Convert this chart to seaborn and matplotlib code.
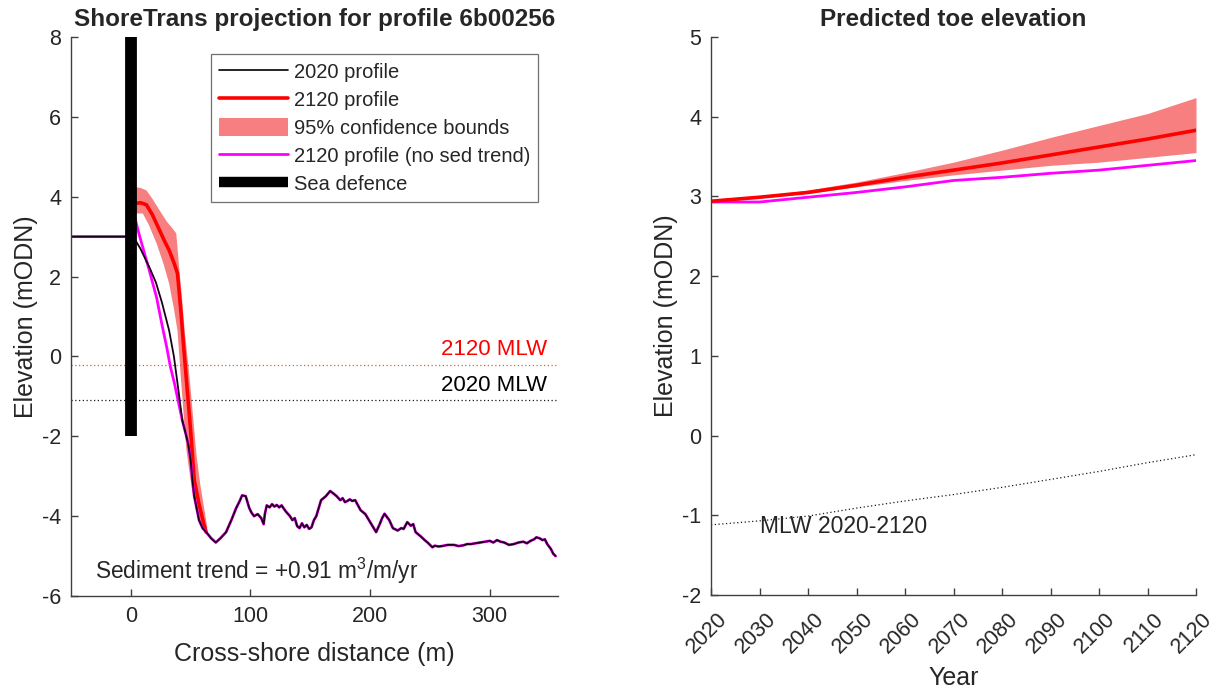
import numpy as np
import pandas as pd
import seaborn as sns
import matplotlib.pyplot as plt
from matplotlib.patches import Patch
from matplotlib.lines import Line2D
import matplotlib.transforms as mtransforms

# ---- left panel: cross-shore profiles ----
x_2020 = [-50, 0, 4, 8, 12, 16, 21, 26, 32, 36, 40, 43, 46, 48, 50, 51.5, 53, 55, 57, 60,
          63, 67, 71, 75, 79.6, 84, 88, 91, 93, 96, 99, 101, 103, 106, 109, 111, 112, 113.6,
          116, 118, 120, 122, 124, 126, 128, 130, 133, 135, 137, 139, 141, 143, 145, 147, 149,
          151, 153, 155, 159, 163, 166.6, 170, 172, 175, 177, 179, 181, 183, 185, 187.5,
          192, 196, 200, 205, 208, 210, 212, 214, 216, 219, 223, 226, 228, 231, 234, 236,
          238, 242, 245.6, 248, 250, 252, 254, 257, 260, 265, 270, 274, 278, 281, 284, 288,
          292, 296, 300, 303, 306, 309, 312, 316, 320, 324, 328, 331, 334, 337, 339, 342, 344,
          346, 348, 351, 353, 355]
z_2020 = [3.0, 3.0, 2.9, 2.7, 2.45, 2.2, 1.85, 1.35, 0.65, 0.0, -0.9, -1.6, -1.95, -2.2, -2.6,
          -3.1, -3.5, -3.8, -4.1, -4.3, -4.4, -4.55, -4.66, -4.55, -4.4, -4.1, -3.8, -3.62,
          -3.48, -3.5, -3.8, -3.92, -4.0, -3.95, -4.05, -4.2, -3.95, -3.73, -3.78, -3.7, -3.76,
          -3.72, -3.78, -3.73, -3.82, -3.9, -4.0, -4.1, -4.05, -4.25, -4.3, -4.18, -4.28,
          -4.22, -4.32, -4.28, -4.1, -4.0, -3.6, -3.5, -3.37, -3.45, -3.5, -3.6, -3.55, -3.65,
          -3.62, -3.58, -3.62, -3.6, -3.85, -3.95, -4.15, -4.4, -4.2, -4.05, -3.94, -4.02,
          -4.1, -4.3, -4.36, -4.3, -4.32, -4.15, -4.24, -4.2, -4.4, -4.5, -4.6, -4.66, -4.72,
          -4.78, -4.74, -4.76, -4.75, -4.72, -4.72, -4.75, -4.73, -4.7, -4.7, -4.68, -4.66,
          -4.64, -4.62, -4.66, -4.6, -4.64, -4.66, -4.72, -4.7, -4.66, -4.64, -4.68, -4.62,
          -4.58, -4.53, -4.56, -4.6, -4.58, -4.7, -4.82, -4.94, -5.0]

x_2120 = [4, 8, 13, 18, 24, 28, 32, 36, 39, 42, 44, 46.5, 49, 50.6, 53, 57, 61, 63]
z_2120 = [3.83, 3.85, 3.8, 3.55, 3.16, 2.9, 2.66, 2.35, 2.08, 1.08, 0.3, -0.6, -1.5, -2.1,
          -3.1, -3.7, -4.2, -4.4]

x_upper = [4, 8, 13, 18, 24, 30, 35, 38, 40.6, 43, 45, 48, 50.6, 53, 55, 58, 61, 64]
z_upper = [4.24, 4.22, 4.16, 3.95, 3.66, 3.38, 3.2, 3.08, 2.15, 1.4, 0.65, -0.2, -1.03, -1.85,
           -2.5, -3.2, -3.75, -4.3]
x_lower = [4, 10, 15, 21.5, 27, 32, 36, 39, 42, 44, 46.5, 49, 52, 56, 59, 62]
z_lower = [3.58, 3.58, 3.3, 2.83, 2.35, 1.83, 1.2, 0.65, -0.6, -1.4, -2.36, -2.9, -3.5, -4.0,
           -4.2, -4.35]

x_nosed_near = [-50, 0, 4, 7, 10, 15, 21.5, 26, 30, 33, 36.5]
z_nosed_near = [3.0, 3.0, 3.4, 3.05, 2.73, 2.2, 1.48, 0.8, 0.23, -0.25, -0.68]

defence_x = [0, 0]
defence_z = [-2, 8]

mlw_2020 = -1.1
mlw_2120 = -0.21

# ---- right panel: toe elevation ----
years = [2020, 2030, 2040, 2050, 2060, 2070, 2080, 2090, 2100, 2110, 2120]
toe_mid = [2.94, 2.99, 3.05, 3.14, 3.24, 3.33, 3.42, 3.52, 3.62, 3.72, 3.83]
toe_up = [2.95, 3.0, 3.08, 3.18, 3.3, 3.43, 3.58, 3.74, 3.89, 4.04, 4.24]
toe_lo = [2.93, 2.98, 3.04, 3.12, 3.2, 3.27, 3.33, 3.39, 3.43, 3.49, 3.55]
toe_nosed = [2.93, 2.93, 2.99, 3.05, 3.12, 3.2, 3.24, 3.29, 3.33, 3.39, 3.45]
mlw_series = [-1.12, -1.07, -1.01, -0.91, -0.82, -0.74, -0.65, -0.55, -0.45, -0.34, -0.24]

sns.set_style('ticks', {'xtick.direction': 'in', 'ytick.direction': 'in',
                        'axes.edgecolor': '0.25', 'xtick.color': '0.25', 'ytick.color': '0.25'})
plt.rcParams['font.family'] = ['Liberation Sans', 'DejaVu Sans']
plt.rcParams['mathtext.fontset'] = 'custom'
plt.rcParams['mathtext.rm'] = 'Liberation Sans'
plt.rcParams['axes.unicode_minus'] = False

RED = '#ff0000'
PINK = '#f77f7f'
MAG = '#ff00ff'
tick_fs = 15.5
lab_fs = 18

fig = plt.figure(figsize=(12.18, 6.91), dpi=100)
ax1 = fig.add_axes([71 / 1218, 1 - 596 / 691, 487 / 1218, 559 / 691])
ax2 = fig.add_axes([711 / 1218, 1 - 595 / 691, 485 / 1218, 558 / 691])

# left
x_nosed = x_nosed_near + [v for v in x_2020 if v > 40]
z_nosed = z_nosed_near + [z for v, z in zip(x_2020, z_2020) if v > 40]

ax1.axhline(mlw_2120, color='#c8643c', ls=(0, (1, 2)), lw=0.9)
ax1.axhline(mlw_2020, color='0.1', ls=(0, (1, 2)), lw=0.9)
ax1.fill(x_upper + x_lower[::-1], z_upper + z_lower[::-1], color=PINK, lw=0)
sns.lineplot(x=x_2120, y=z_2120, ax=ax1, color=RED, lw=2.6, sort=False, estimator=None)
sns.lineplot(x=x_nosed, y=z_nosed, ax=ax1, color=MAG, lw=2.0, sort=False, estimator=None)
sns.lineplot(x=x_2020, y=z_2020, ax=ax1, color='#1a001a', lw=1.3, sort=False, estimator=None)
sns.lineplot(x=defence_x, y=defence_z, ax=ax1, color='black', lw=8.5, sort=False,
             estimator=None, solid_capstyle='butt')

ax1.text(348, mlw_2120 + 0.12, '2120 MLW', color=RED, ha='right', va='bottom', fontsize=16)
ax1.text(348, mlw_2020 + 0.12, '2020 MLW', color='black', ha='right', va='bottom', fontsize=16)
ax1.text(-30, -5.36, 'Sediment trend = +0.91 m$^3$/m/yr', ha='left', va='center', fontsize=16.3)

ax1.set_xlim(-50, 357)
ax1.set_ylim(-6, 8)
ax1.set_xticks([0, 100, 200, 300])
ax1.set_yticks(range(-6, 9, 2))
ax1.set_xlabel('Cross-shore distance (m)', fontsize=lab_fs, color='0.15', labelpad=11)
ax1.set_ylabel('Elevation (mODN)', fontsize=lab_fs, color='0.15', labelpad=3)
ax1.set_title('ShoreTrans projection for profile 6b00256', fontsize=17.5, fontweight='bold',
              pad=8, y=1.0)

handles = [
    Line2D([], [], color='black', lw=1.2),
    Line2D([], [], color=RED, lw=2.6),
    Patch(facecolor=PINK, edgecolor='none'),
    Line2D([], [], color=MAG, lw=2.0),
    Line2D([], [], color='black', lw=7.5, solid_capstyle='butt'),
]
labels = ['2020 profile', '2120 profile', '95% confidence bounds',
          '2120 profile (no sed trend)', 'Sea defence']
leg = ax1.legend(handles, labels, loc='upper right', bbox_to_anchor=(0.959, 0.970),
                 fontsize=14.5, frameon=True, fancybox=False, edgecolor='0.3',
                 handlelength=3.4, handleheight=1.0, handletextpad=0.3,
                 labelspacing=0.4, borderpad=0.4, borderaxespad=0)
leg.get_frame().set_linewidth(0.9)

# right
ax2.fill_between(years, toe_lo, toe_up, color=PINK, lw=0)
sns.lineplot(x=years, y=toe_nosed, ax=ax2, color=MAG, lw=2.0, estimator=None)
sns.lineplot(x=years, y=toe_mid, ax=ax2, color=RED, lw=2.6, estimator=None)
sns.lineplot(x=years, y=mlw_series, ax=ax2, color='0.1', lw=0.9, ls=(0, (1, 2)), estimator=None)
ax2.text(2030, -1.14, 'MLW 2020-2120', ha='left', va='center', fontsize=16.5)

ax2.set_xlim(2020, 2120)
ax2.set_ylim(-2, 5)
ax2.set_xticks(years)
ax2.set_yticks(range(-2, 6))
ax2.set_ylabel('Elevation (mODN)', fontsize=lab_fs, color='0.15', labelpad=3)
ax2.set_title('Predicted toe elevation', fontsize=17.5, fontweight='bold', pad=8, y=1.0)
ax2.set_xlabel('')
ax2.text(0.5, -0.148, 'Year', transform=ax2.transAxes, ha='center', va='center',
         fontsize=lab_fs, color='0.15')

for ax in (ax1, ax2):
    sns.despine(ax=ax)
    ax.tick_params(length=5, width=1, labelsize=tick_fs, labelcolor='0.15', pad=7)
    for s in ax.spines.values():
        s.set_linewidth(1.0)

offset = mtransforms.ScaledTranslation(6 / 100, -4 / 100, fig.dpi_scale_trans)
for lbl in ax2.get_xticklabels():
    lbl.set_rotation(45)
    lbl.set_ha('right')
    lbl.set_rotation_mode('anchor')
    lbl.set_fontsize(15.5)
    lbl.set_transform(lbl.get_transform() + offset)

fig.savefig('out.png', dpi=100)
